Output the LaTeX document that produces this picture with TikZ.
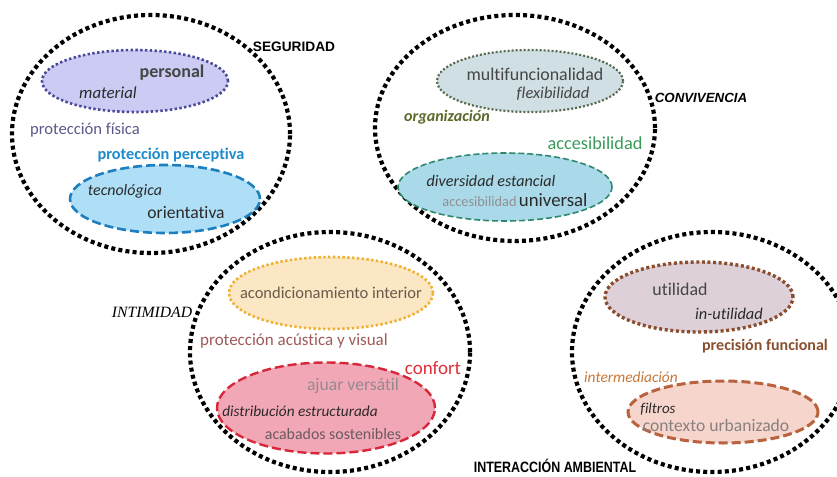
\documentclass[tikz,border=0pt]{standalone}
\usepackage{fontspec}
\setmainfont{Carlito}[Ligatures=NoCommon]
\newfontfamily\arialf{Liberation Sans}
\newfontfamily\timesf{Liberation Serif}
\usetikzlibrary{shapes.geometric}
\newcommand{\fs}[1]{\fontsize{#1}{#1}\selectfont}
\definecolor{e1fill}{HTML}{CBCBF4}
\definecolor{e1line}{HTML}{4A4A9A}
\definecolor{e2fill}{HTML}{AEDFF6}
\definecolor{e2line}{HTML}{1E7FC0}
\definecolor{e3fill}{HTML}{D0DFE3}
\definecolor{e3line}{HTML}{5A6A50}
\definecolor{e4fill}{HTML}{AAD9EA}
\definecolor{e4line}{HTML}{2E8A6E}
\definecolor{e5fill}{HTML}{FBE7C3}
\definecolor{e5line}{HTML}{F0B030}
\definecolor{e6fill}{HTML}{F2A7B6}
\definecolor{e6line}{HTML}{D6283A}
\definecolor{e7fill}{HTML}{DDD0D8}
\definecolor{e7line}{HTML}{8A4E2E}
\definecolor{e8fill}{HTML}{F6D6CC}
\definecolor{e8line}{HTML}{B8623E}
\definecolor{tdark}{HTML}{2A2A2A}
\definecolor{tgray}{HTML}{454545}
\definecolor{tfisica}{HTML}{5A5A8C}
\definecolor{tpercep}{HTML}{1E8CCC}
\definecolor{torg}{HTML}{5A6A2A}
\definecolor{tacces}{HTML}{3A9A5A}
\definecolor{tlight}{HTML}{909090}
\definecolor{tacond}{HTML}{6A5A4A}
\definecolor{tacust}{HTML}{A05A5A}
\definecolor{tconf}{HTML}{E0303A}
\definecolor{tajuar}{HTML}{958A90}
\definecolor{tacab}{HTML}{6A5A60}
\definecolor{tprec}{HTML}{8A5030}
\definecolor{tinter}{HTML}{C87838}
\definecolor{tcont}{HTML}{888080}
\tikzset{
  big/.style={ellipse, draw=black, line width=4.2pt, dash pattern=on 4pt off 3.2pt, inner sep=0pt, outer sep=0pt},
  inner/.style={ellipse, inner sep=0pt, outer sep=0pt},
  dotin/.style={inner, line width=2.6pt, dash pattern=on 2.4pt off 2.4pt},
  dashin/.style={inner, line width=2.6pt, dash pattern=on 9pt off 4pt},
  lbl/.style={inner sep=0pt, anchor=center},
}
\begin{document}
\begin{tikzpicture}[x=1pt,y=-1pt]
\useasboundingbox (0,0) rectangle (837,476);
\fill[white] (0,0) rectangle (837,476);
\clip (0,0) rectangle (837,476);
% big circles
\node[big, minimum width=278pt, minimum height=238pt] (c1) at (151,134) {};
\node[big, minimum width=280pt, minimum height=226pt] (c2) at (515,128) {};
\node[big, minimum width=280pt, minimum height=240pt] (c3) at (330,352) {};
\node[big, minimum width=280pt, minimum height=240pt] (c4) at (712,352) {};
% inner ellipses
\node[dotin, draw=e1line, fill=e1fill, minimum width=186pt, minimum height=62pt] (e1) at (135,81) {};
\node[dashin, draw=e2line, fill=e2fill, minimum width=190pt, minimum height=68pt] (e2) at (165,199) {};
\node[dotin, draw=e3line, fill=e3fill, minimum width=186pt, minimum height=62pt, line width=2.2pt, dash pattern=on 2pt off 2pt] (e3) at (530,81) {};
\node[dashin, draw=e4line, fill=e4fill, minimum width=214pt, minimum height=68pt, line width=1.6pt, dash pattern=on 6pt off 3pt] (e4) at (505,187) {};
\node[dotin, draw=e5line, fill=e5fill, minimum width=204pt, minimum height=72pt] (e5) at (331,293) {};
\node[dashin, draw=e6line, fill=e6fill, minimum width=218pt, minimum height=91pt, line width=2.4pt] (e6) at (326,408) {};
\node[dotin, draw=e7line, fill=e7fill, minimum width=188pt, minimum height=70pt, line width=3.4pt, dash pattern=on 3pt off 2.6pt] (e7) at (699,297) {};
\node[dashin, draw=e8line, fill=e8fill, minimum width=190pt, minimum height=62pt, line width=3pt] (e8) at (723,412) {};
% SEGURIDAD
\node[lbl] (seg) at (294,47) {\arialf\bfseries\fs{13.7}SEGURIDAD};
\node[lbl, text=tgray] (pers) at (172,73) {\bfseries\fs{18}personal};
\node[lbl, text=tdark] (mat) at (108,93) {\itshape\fs{16.8}material};
\node[lbl, text=tfisica] (fis) at (85,130) {\fs{16.6}protección física};
\node[lbl, text=tpercep] (perc) at (171,155) {\bfseries\fs{16.3}protección perceptiva};
\node[lbl, text=tdark] (tec) at (125,191) {\itshape\fs{15.9}tecnológica};
\node[lbl, text=tdark] (ori) at (186,213) {\fs{17.6}orientativa};
% CONVIVENCIA
\node[lbl] (conv) at (701,98) {\arialf\bfseries\itshape\fs{13.3}CONVIVENCIA};
\node[lbl, text=tgray] (multi) at (535,74) {\fs{17.9}multifuncionalidad};
\node[lbl, text=tgray] (flex) at (553,94) {\itshape\fs{16.5}flexibilidad};
\node[lbl, text=torg] (org) at (447,117) {\bfseries\itshape\fs{16.1}organización};
\node[lbl, text=tacces] (acc) at (595,143) {\fs{18.3}accesibilidad};
\node[lbl, text=tdark] (div) at (491,181) {\itshape\fs{16.1}diversidad estancial};
\node[lbl, text=tdark] (univ) at (515,200) {{\fs{14.3}\color{tlight}accesibilidad} {\fs{18.8}universal}};
% INTIMIDAD
\node[lbl] (inti) at (152,312) {\timesf\itshape\fs{15.7}INTIMIDAD};
\node[lbl, text=tacond] (acond) at (331,293) {\fs{16.5}acondicionamiento interior};
\node[lbl, text=tacust] (acust) at (294,341) {\fs{17}protección acústica y visual};
\node[lbl, text=tconf] (conf) at (433,368) {\fs{19}confort};
\node[lbl, text=tajuar] (ajuar) at (353,386) {\fs{17.6}ajuar versátil};
\node[lbl, text=tdark] (distr) at (300,411) {\itshape\fs{15.3}distribución estructurada};
\node[lbl, text=tacab] (acab) at (333,434) {\fs{15.9}acabados sostenibles};
% INTERACCION AMBIENTAL
\node[lbl] (amb) at (555,466) {\arialf\bfseries\fs{15}\scalebox{0.83}[1]{INTERACCIÓN AMBIENTAL}};
\node[lbl, text=tgray] (util) at (680,289) {\fs{17.9}utilidad};
\node[lbl, text=tdark] (inutil) at (729,314) {\itshape\fs{16.4}in-utilidad};
\node[lbl, text=tprec] (prec) at (765,346) {\bfseries\fs{16}precisión funcional};
\node[lbl, text=tinter] (interm) at (631,377) {\itshape\fs{15.4}intermediación};
\node[lbl, text=tdark] (filt) at (658,409) {\itshape\fs{15}filtros};
\node[lbl, text=tcont] (cont) at (716,425) {\fs{17.6}contexto urbanizado};
\end{tikzpicture}
\end{document}
